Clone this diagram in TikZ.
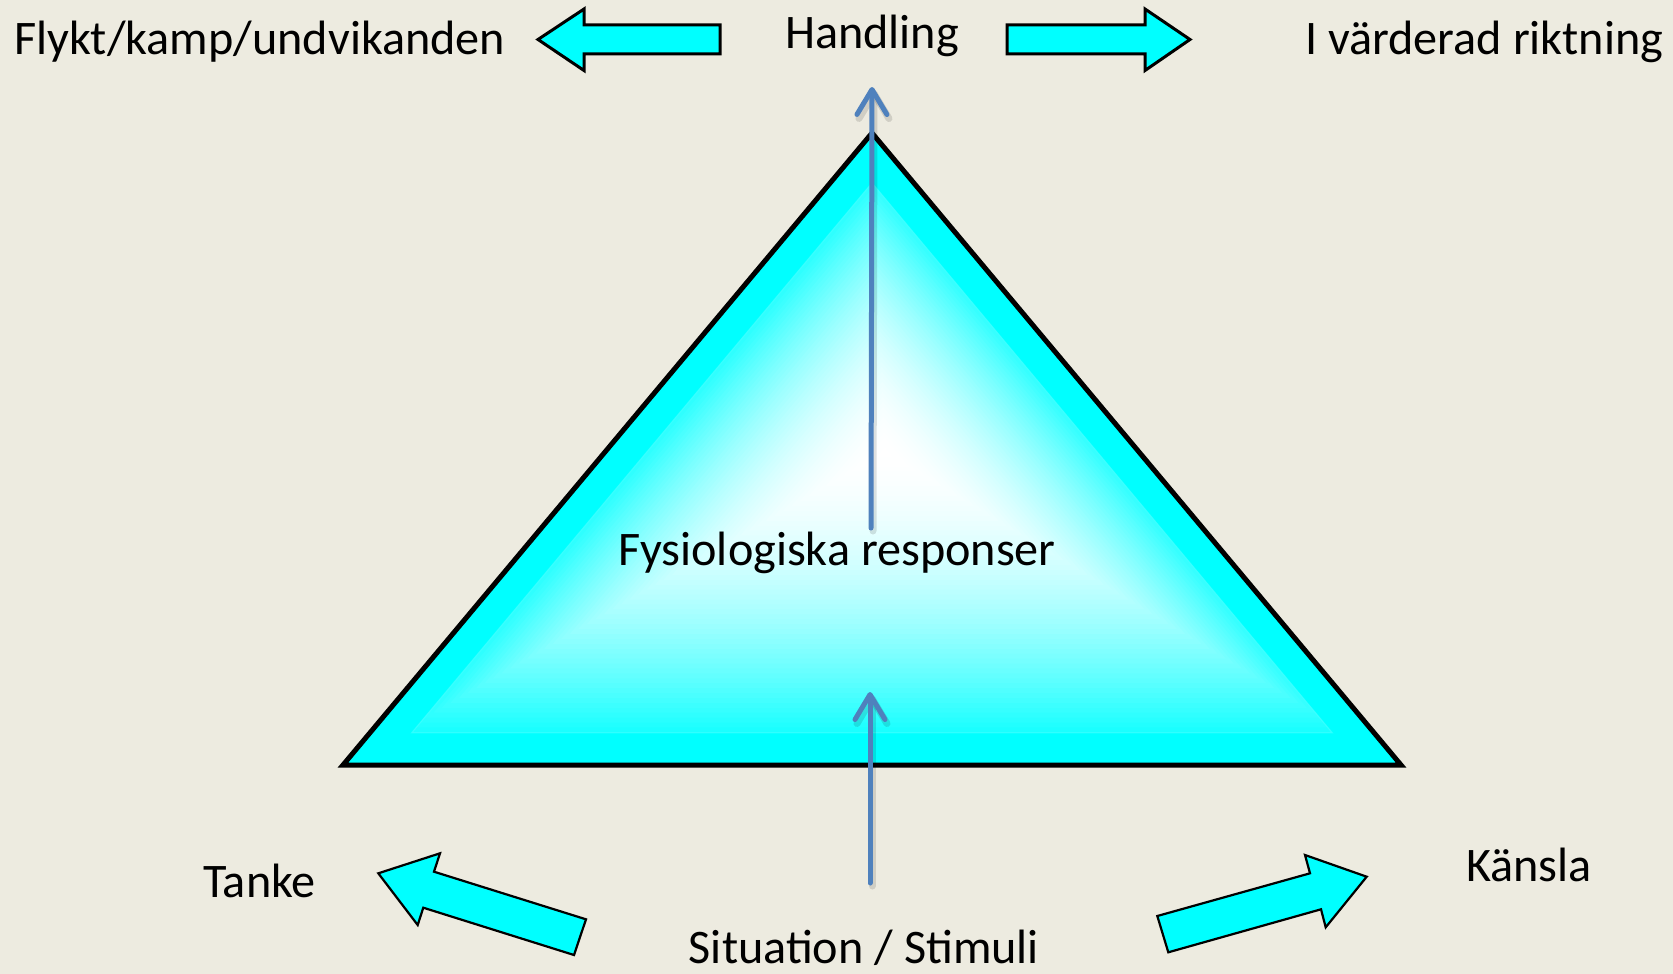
\documentclass[tikz,border=0pt]{standalone}
\usepackage{fontspec}
\setmainfont{Carlito}
\usetikzlibrary{arrows.meta,calc}
\definecolor{bg}{RGB}{237,235,224}
\definecolor{aqua}{RGB}{0,255,255}
\definecolor{ablue}{RGB}{79,129,189}
\begin{document}
\begin{tikzpicture}[x=1pt,y=-1pt,
  lbl/.style={inner sep=0pt, font=\fontsize{48.2}{56}\selectfont},
  blockarrow/.style={fill=aqua, draw=black, line width=3pt, line join=miter},
  blockarrowthin/.style={fill=aqua, draw=black, line width=2.2pt, line join=miter},
  flow/.style={draw=ablue, line width=5pt, line cap=round, -{Straight Barb[length=25pt,width=30pt,round]}},
  flowshadow/.style={draw=black, opacity=0.12, line width=7pt, line cap=round, -{Straight Barb[length=25pt,width=30pt,round]}}]
\fill[bg] (0,0) rectangle (1673,974);
\useasboundingbox (0,0) rectangle (1673,974);

% triangle
\coordinate (A) at (872,133);
\coordinate (B) at (343,765);
\coordinate (C) at (1401,765);
\coordinate (I) at (872,517);
\coordinate (F) at (885,452);
\fill[aqua] (A) -- (B) -- (C) -- cycle;
\begin{scope}
  \clip ($(I)!0.87!(A)$) -- ($(I)!0.87!(B)$) -- ($(I)!0.87!(C)$) -- cycle;
  \foreach \i in {0,...,70}{
    \pgfmathsetmacro\s{1.1-\i*1.1/70}
    \pgfmathsetmacro\c{min(100,100*(\s/0.95)^1.8)}
    \fill[aqua!\c!white] ($(F)!\s!(A)$) -- ($(F)!\s!(B)$) -- ($(F)!\s!(C)$) -- cycle;
  }
\end{scope}
\draw[aqua!70!white, line width=1.2pt, opacity=0.5] ($(I)!0.87!(A)$) -- ($(I)!0.87!(B)$) -- ($(I)!0.87!(C)$) -- cycle;
\draw[black, line width=5pt, line join=miter] (A) -- (B) -- (C) -- cycle;

% text nodes
\node[lbl, anchor=base west] (flykt) at (14,55) {Flykt/kamp/undvikanden};
\node[lbl, anchor=base] (handling) at (872,48.5) {Handling};
\node[lbl, anchor=base west] (varderad) at (1305,55) {I värderad riktning};
\node[lbl, anchor=base] (fysio) at (837,565) {Fysiologiska responser};
\node[lbl, anchor=base] (tanke) at (259.5,897) {Tanke};
\node[lbl, anchor=base] (kansla) at (1529,881) {Känsla};
\node[lbl, anchor=base] (situation) at (864,963) {Situation / Stimuli};

% blue flow arrows
\coordinate (topS) at (871,528);
\coordinate (topE) at (872,87);
\coordinate (botS) at (870,883);
\coordinate (botE) at (870,692);
\draw[flowshadow, transform canvas={shift={(2pt,-3pt)}}] (topS) -- (topE);
\draw[flowshadow, transform canvas={shift={(2pt,-3pt)}}] (botS) -- (botE);
\draw[flow] (topS) -- (topE);
\draw[flow] (botS) -- (botE);

% block arrows
\draw[blockarrow] (538,39.5) -- (584,9) -- (584,25) -- (720,25) -- (720,54) -- (584,54) -- (584,70.5) -- cycle;
\draw[blockarrow] (1007,25) -- (1145,25) -- (1145,9) -- (1190,39.5) -- (1145,70.5) -- (1145,54) -- (1007,54) -- cycle;
\draw[blockarrowthin] (378.3,873.3) -- (440,853.3) -- (434,871.7) -- (586,919.3) -- (574,955) -- (423.3,907.7) -- (417.7,925) -- cycle;
\draw[blockarrowthin] (1157.3,916) -- (1310,873.3) -- (1305,855) -- (1366.7,876.7) -- (1325.7,927.3) -- (1321,909.3) -- (1168.3,952.3) -- cycle;
\end{tikzpicture}
\end{document}
